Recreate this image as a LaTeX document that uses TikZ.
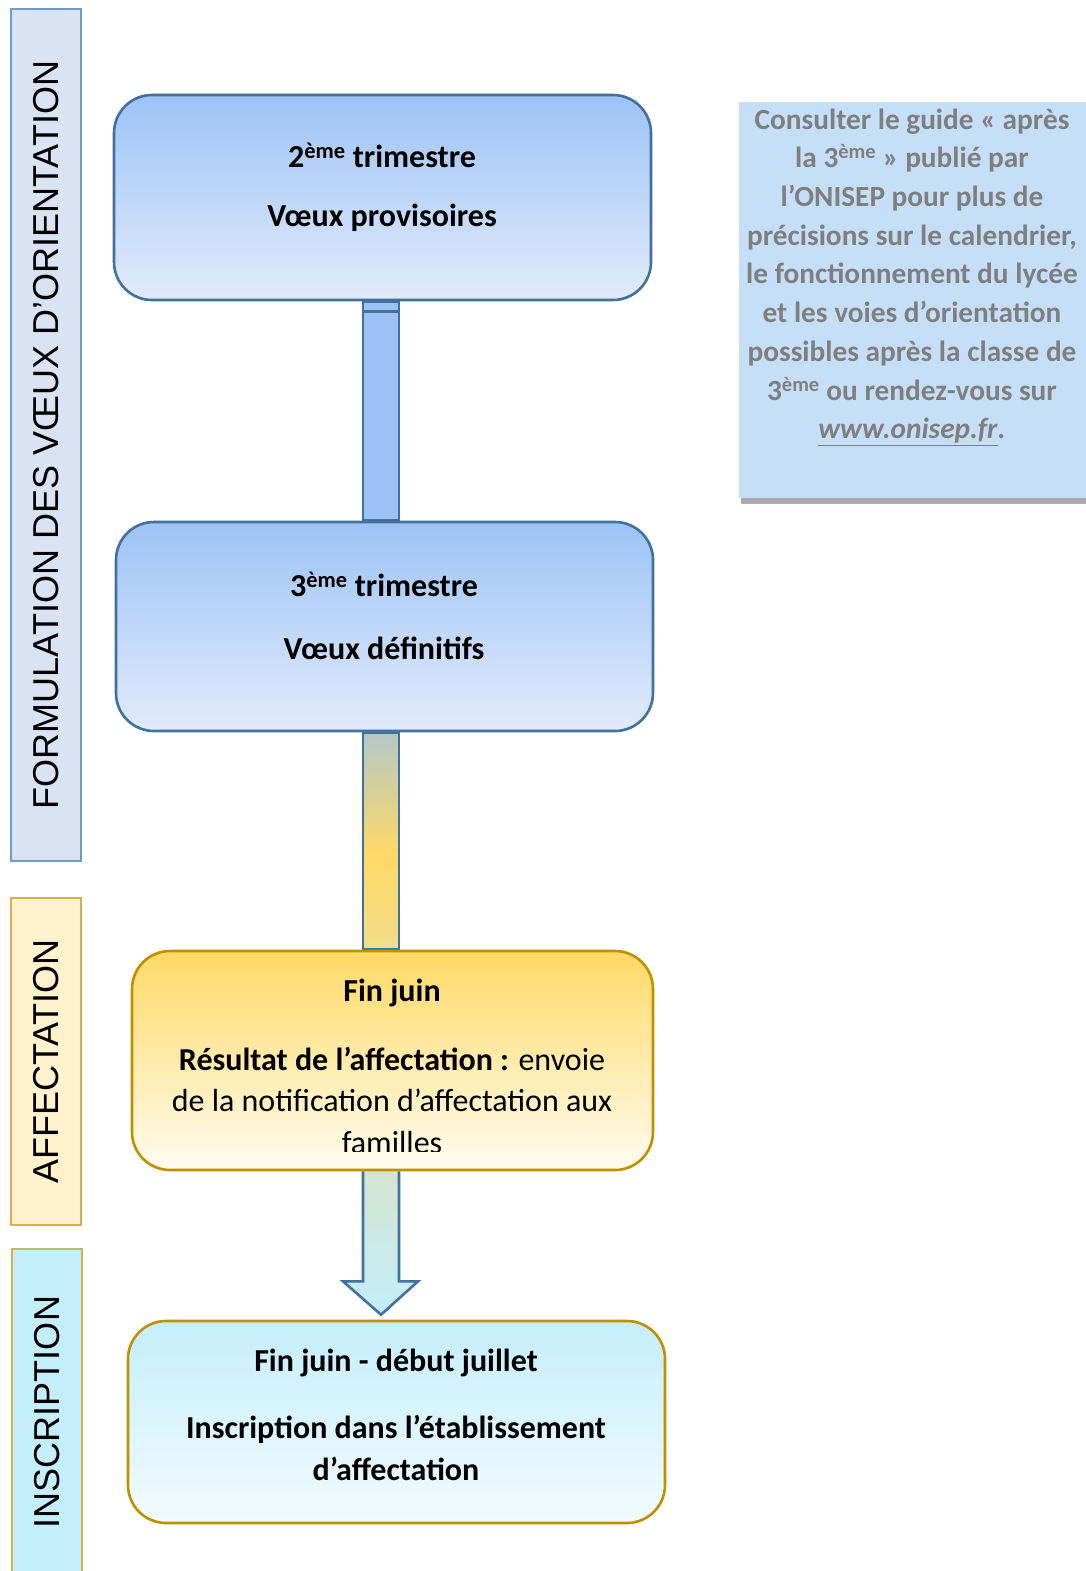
\documentclass[tikz,border=0pt]{standalone}
\usepackage{fontspec}
\setmainfont{Carlito}
\newfontfamily\barfont{Liberation Sans}
\usetikzlibrary{shadows,backgrounds,calc}

\definecolor{bluebar}{HTML}{DAE3F3}
\definecolor{blueedge}{HTML}{6C9BCF}
\definecolor{goldbar}{HTML}{FFF2CC}
\definecolor{goldedge}{HTML}{D4B04E}
\definecolor{cyanbar}{HTML}{C5EEFB}
\definecolor{boxedge}{HTML}{41719C}
\definecolor{bluetop}{HTML}{9DC3F6}
\definecolor{bluebot}{HTML}{E1EBFA}
\definecolor{yellowtop}{HTML}{FFD966}
\definecolor{yellowbot}{HTML}{FFFCF0}
\definecolor{darkgold}{HTML}{BF9000}
\definecolor{cyanbot}{HTML}{F2FBFE}
\definecolor{greyblue}{HTML}{B3C7C8}
\definecolor{paleyellow}{HTML}{F2DD8A}
\definecolor{palegreen}{HTML}{D3E5CF}
\definecolor{notefill}{HTML}{C5DFF8}
\definecolor{notegrey}{HTML}{7F7F7F}

\pgfdeclareverticalshading{linkfade}{100bp}{color(0bp)=(paleyellow); color(25bp)=(paleyellow);
  color(47bp)=(yellowtop); color(75bp)=(greyblue); color(100bp)=(greyblue)}

\newcommand{\eme}{\textsuperscript{ème}}

\begin{document}
\begin{tikzpicture}[x=1pt,y=-1pt,
  every node/.style={inner sep=0pt},
  sidebar/.style={draw, rotate=90, minimum height=70pt, line width=1.3pt,
    font=\barfont\fontsize{36}{42}\selectfont},
  stagebox/.style={draw, rounded corners=38pt, line width=2.6pt},
  bluebox/.style={stagebox, draw=boxedge, top color=bluetop, bottom color=bluebot},
  yellowbox/.style={stagebox, draw=darkgold, top color=yellowtop, bottom color=yellowbot},
  cyanbox/.style={stagebox, draw=darkgold, top color=cyanbar, bottom color=cyanbot},
  boxtext/.style={font=\fontsize{32}{41.5}\selectfont, align=center},
  link/.style={draw=boxedge, line width=2.6pt},
  notetext/.style={font=\bfseries\fontsize{29.3}{38.7}\selectfont, text=notegrey, align=center}
]
\useasboundingbox (0,0) rectangle (1085,1571);

% side bars
\node[sidebar, draw=blueedge, fill=bluebar, minimum width=852pt] (s1) at (46,435) {FORMULATION DES VŒUX D’ORIENTATION};
\node[sidebar, draw=goldedge, fill=goldbar, minimum width=327pt] (s2) at (46,1061.5) {AFFECTATION};
\node[sidebar, draw=goldedge, fill=cyanbar, minimum width=326pt] (s3) at (47,1412) {INSCRIPTION};

% stage boxes
\node[bluebox, minimum width=537pt, minimum height=205pt] (b1) at (382.5,197.5) {};
\node[bluebox, minimum width=537pt, minimum height=209pt] (b2) at (384.5,626.5) {};
\node[yellowbox, minimum width=521pt, minimum height=219pt] (b3) at (392.5,1060.5) {};
\node[cyanbox, minimum width=537pt, minimum height=202pt] (b4) at (396.5,1422) {};

\node[boxtext] (t1a) at (382,155) {\textbf{2\eme{} trimestre}};
\node[boxtext] (t1b) at (382,218) {\textbf{Vœux provisoires}};
\node[boxtext] (t2a) at (384,584) {\textbf{3\eme{} trimestre}};
\node[boxtext] (t2b) at (384,648) {\textbf{Vœux définitifs}};
\node[boxtext] (t3a) at (392,993) {\textbf{Fin juin}};
\begin{scope}
\clip (132,951) rectangle (653,1151);
\node[boxtext] (t3b) at (392,1100) {\textbf{Résultat de l’affectation :} envoie\\de la notification d’affectation aux\\familles};
\end{scope}
\node[boxtext] (t4a) at (396,1363) {\textbf{Fin juin - début juillet}};
\node[boxtext] (t4b) at (396,1448) {\textbf{Inscription dans l’établissement}\\\textbf{d’affectation}};

% connectors
\coordinate (axis) at (381,0);
\begin{scope}[on background layer]
\fill[white] (0,0) rectangle (1085,1571);
\draw[link, fill=bluetop] ($(b1.south -| axis)+(-18,0)$) rectangle ($(b2.north -| axis)+(18,0)$);
\draw[link] ($(b1.south -| axis)+(-18,10)$) -- ($(b1.south -| axis)+(18,10)$);
\draw[link, shading=linkfade]
  ($(b2.south -| axis)+(-18,0)$) rectangle ($(b3.north -| axis)+(18,0)$);
\draw[link, top color=palegreen, bottom color=cyanbar]
  ($(b3.south -| axis)+(-18,0)$) -- ($(b3.south -| axis)+(-18,110)$)
  -- ($(b3.south -| axis)+(-38,110)$) -- ($(b4.north -| axis)+(0,-5)$)
  -- ($(b3.south -| axis)+(37,110)$) -- ($(b3.south -| axis)+(18,110)$)
  -- ($(b3.south -| axis)+(18,0)$);
\end{scope}

% note
\node[fill=notefill, minimum width=361pt, minimum height=396pt,
  drop shadow={shadow xshift=2pt, shadow yshift=-6pt, fill=black!55, opacity=.6}] (note) at (919.5,300) {};
\node[notetext] (nt) at (912,277) {Consulter le guide « après\\la 3\eme{} » publié par\\l’ONISEP pour plus de\\précisions sur le calendrier,\\le fonctionnement du lycée\\et les voies d’orientation\\possibles après la classe de\\3\eme{} ou rendez-vous sur\\\underline{\textit{www.onisep.fr}}\textit{.}};
\end{tikzpicture}
\end{document}
